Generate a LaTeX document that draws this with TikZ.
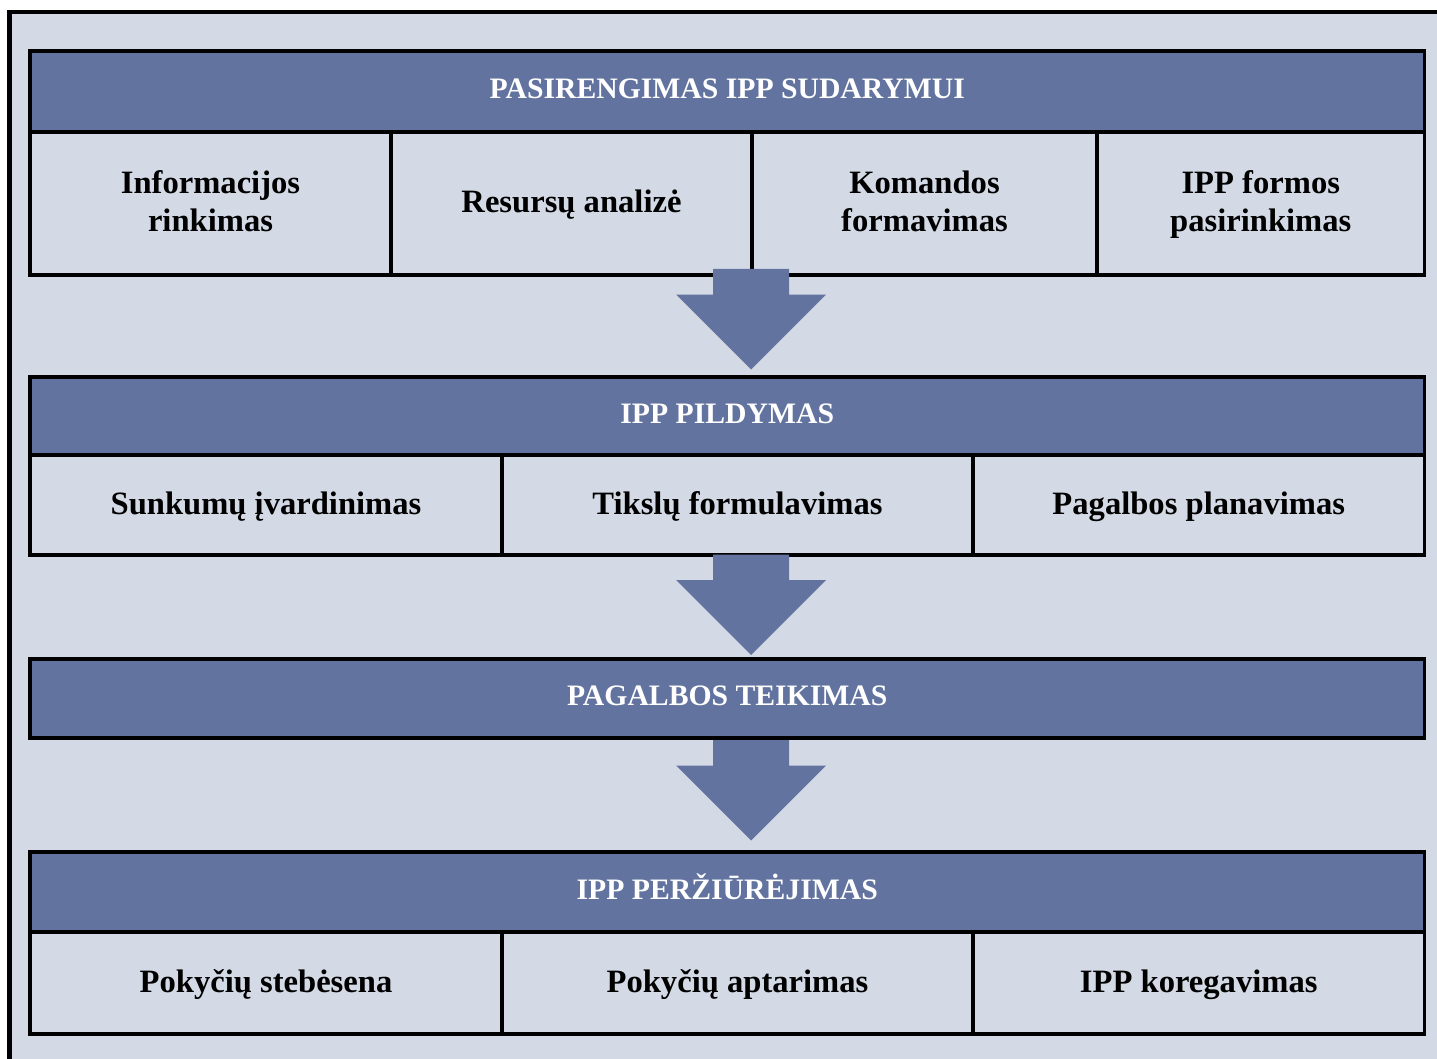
\documentclass[tikz,border=0pt]{standalone}
\usepackage{fontspec}
\setmainfont{Liberation Serif}
\definecolor{hdr}{RGB}{98,115,160}
\definecolor{bgc}{RGB}{211,218,229}
\begin{document}
\begin{tikzpicture}[x=1pt,y=-1pt,
  hdrbox/.style={draw=black, line width=3.5pt, fill=hdr, text=white, inner sep=0pt,
    font=\fontsize{29.7}{35}\bfseries\selectfont, text height=14pt, text depth=0pt},
  cellbox/.style={draw=black, line width=3.5pt, inner sep=0pt,
    font=\fontsize{32.6}{38.4}\bfseries\selectfont, text height=18pt, text depth=0pt},
  cellboxtwo/.style={draw=black, line width=3.5pt, inner sep=0pt, align=center,
    font=\fontsize{32.6}{38.4}\bfseries\selectfont, text height=56.4pt, text depth=0pt},
  downarrow/.pic={\fill[hdr] (-38,0) -- (38,0) -- (38,25.5) -- (75,25.5) -- (0,100.5) -- (-75,25.5) -- (-38,25.5) -- cycle;}
]
\useasboundingbox (0,0) rectangle (1437,1059);
\fill[bgc] (9.5,12) rectangle (1440,1062);
\draw[line width=4.3pt] (9.5,1062) -- (9.5,12) -- (1440,12);

% block 1
\node[hdrbox, minimum width=1394.5pt, minimum height=81pt] (h1) at (727.25,91.5) {PASIRENGIMAS IPP SUDARYMUI};
\node[cellboxtwo, minimum width=361pt, minimum height=143pt] (c11) at (210.5,203.5) {Informacijos\\rinkimas};
\node[cellbox, minimum width=361pt, minimum height=143pt] (c12) at (571.5,203.5) {Resursų analizė};
\node[cellboxtwo, minimum width=345pt, minimum height=143pt] (c13) at (924.5,203.5) {Komandos\\formavimas};
\node[cellboxtwo, minimum width=327.5pt, minimum height=143pt] (c14) at (1260.75,203.5) {IPP formos\\pasirinkimas};

% block 2
\node[hdrbox, minimum width=1394.5pt, minimum height=78pt] (h2) at (727.25,416) {IPP PILDYMAS};
\node[cellbox, minimum width=472pt, minimum height=100pt] (c21) at (266,505) {Sunkumų įvardinimas};
\node[cellbox, minimum width=471pt, minimum height=100pt] (c22) at (737.5,505) {Tikslų formulavimas};
\node[cellbox, minimum width=451.5pt, minimum height=100pt] (c23) at (1198.75,505) {Pagalbos planavimas};

% block 3
\node[hdrbox, minimum width=1394.5pt, minimum height=79pt] (h3) at (727.25,698.5) {PAGALBOS TEIKIMAS};

% block 4
\node[hdrbox, minimum width=1394.5pt, minimum height=80pt] (h4) at (727.25,892) {IPP PERŽIŪRĖJIMAS};
\node[cellbox, minimum width=472pt, minimum height=102pt] (c41) at (266,983) {Pokyčių stebėsena};
\node[cellbox, minimum width=471pt, minimum height=102pt] (c42) at (737.5,983) {Pokyčių aptarimas};
\node[cellbox, minimum width=451.5pt, minimum height=102pt] (c43) at (1198.75,983) {IPP koregavimas};

% arrows
\pic at (751,269) {downarrow};
\pic at (751,554.5) {downarrow};
\pic at (751,740) {downarrow};
\end{tikzpicture}
\end{document}
